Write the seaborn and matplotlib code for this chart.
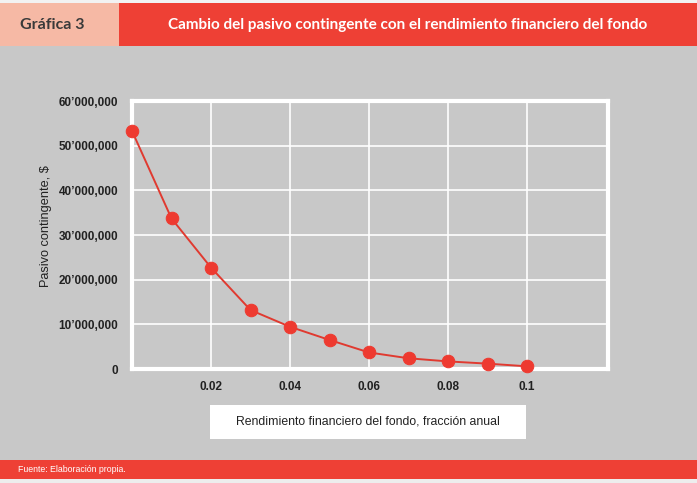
import matplotlib
matplotlib.use("Agg")
import matplotlib.pyplot as plt
from matplotlib.patches import Rectangle
import seaborn as sns
import pandas as pd

# Data
rendimiento = [0.0, 0.01, 0.02, 0.03, 0.04, 0.05, 0.06, 0.07, 0.08, 0.09, 0.10]
pasivo = [53.3e6, 33.7e6, 22.7e6, 13.2e6, 9.45e6, 6.5e6, 3.7e6, 2.4e6, 1.7e6, 1.2e6, 0.6e6]
x_ticks = [0.02, 0.04, 0.06, 0.08, 0.1]
x_tick_labels = ["0.02", "0.04", "0.06", "0.08", "0.1"]
y_ticks = [0, 10e6, 20e6, 30e6, 40e6, 50e6, 60e6]
y_tick_labels = ["0", "10’000,000", "20’000,000", "30’000,000", "40’000,000", "50’000,000", "60’000,000"]

title_left = "Gráfica 3"
title_main = "Cambio del pasivo contingente con el rendimiento financiero del fondo"
x_label = "Rendimiento financiero del fondo, fracción anual"
y_label = "Pasivo contingente, $"
source = "Fuente: Elaboración propia."

df = pd.DataFrame({"x": rendimiento, "y": pasivo})

sns.set_theme(style="white")
plt.rcParams['font.family'] = ['Liberation Sans', 'DejaVu Sans']

GRAY = "#C8C8C8"
RED = "#EE4035"
PALE = "#F6B9A5"

W, H = 697, 483
fig = plt.figure(figsize=(W / 100, H / 100), dpi=100)
fig.patch.set_facecolor(GRAY)

def fx(px):
    return px / W

def fy(py):
    return 1 - py / H

# Header bands
fig.patches.append(Rectangle((0, fy(46)), fx(119), fy(3) - fy(46), transform=fig.transFigure,
                             facecolor=PALE, edgecolor="none", zorder=0))
fig.patches.append(Rectangle((fx(119), fy(46)), 1 - fx(119), fy(3) - fy(46), transform=fig.transFigure,
                             facecolor=RED, edgecolor="none", zorder=0))
fig.patches.append(Rectangle((0, fy(3)), 1, 1 - fy(3), transform=fig.transFigure,
                             facecolor="#F2F2F2", edgecolor="none", zorder=0))
fig.text(fx(52), fy(25), title_left, ha="center", va="center", fontsize=11.5,
         color="#3A3A3A", fontweight="bold", family=["Lato", "DejaVu Sans"])
fig.text(fx(408), fy(25), title_main, ha="center", va="center", fontsize=11,
         color="white", fontweight="bold", family=["Lato", "DejaVu Sans"])

# Footer band
fig.patches.append(Rectangle((0, fy(479)), 1, fy(460) - fy(479), transform=fig.transFigure,
                             facecolor=RED, edgecolor="none", zorder=0))
fig.patches.append(Rectangle((0, 0), 1, fy(479), transform=fig.transFigure,
                             facecolor="#EDEDED", edgecolor="none", zorder=0))
fig.text(fx(18), fy(469.5), source, ha="left", va="center", fontsize=6.3, color="white")

# Axes
ax = fig.add_axes([fx(132), fy(369), fx(608) - fx(132), fy(101) - fy(369)])
ax.set_facecolor(GRAY)
sns.lineplot(data=df, x="x", y="y", ax=ax, color="#E03A30", linewidth=1.4,
             marker="o", markersize=9, markerfacecolor="#EE3A30",
             markeredgecolor="#EE3A30", zorder=5, clip_on=False)
ax.set_xlim(0, 0.1205)
ax.set_ylim(0, 60e6)
ax.set_xticks(x_ticks)
ax.set_xticklabels(x_tick_labels)
ax.set_yticks(y_ticks)
ax.set_yticklabels(y_tick_labels)
ax.grid(True, color="white", linewidth=1.2)
ax.set_axisbelow(True)
for s in ax.spines.values():
    s.set_color("white")
    s.set_linewidth(3)
ax.tick_params(axis="both", colors="white", length=6, width=1, labelsize=8.5,
               labelcolor="#222222")
ax.tick_params(axis="x", pad=3)
ax.tick_params(axis="y", pad=4)
for lab in ax.get_xticklabels() + ax.get_yticklabels():
    lab.set_fontweight("bold")
ax.set_xlabel("")
ax.set_ylabel(y_label, fontsize=9.2, color="#222222")
ax.yaxis.set_label_coords(-0.168, 0.535)

# X label in a white box
fig.patches.append(Rectangle((fx(210), fy(439)), fx(526) - fx(210), fy(405) - fy(439),
                             transform=fig.transFigure, facecolor="white", edgecolor="none", zorder=1))
fig.text(fx(368), fy(422), x_label, ha="center", va="center", fontsize=8.8, color="#222222", zorder=2)

fig.savefig("out.png", dpi=100, facecolor=fig.get_facecolor())
